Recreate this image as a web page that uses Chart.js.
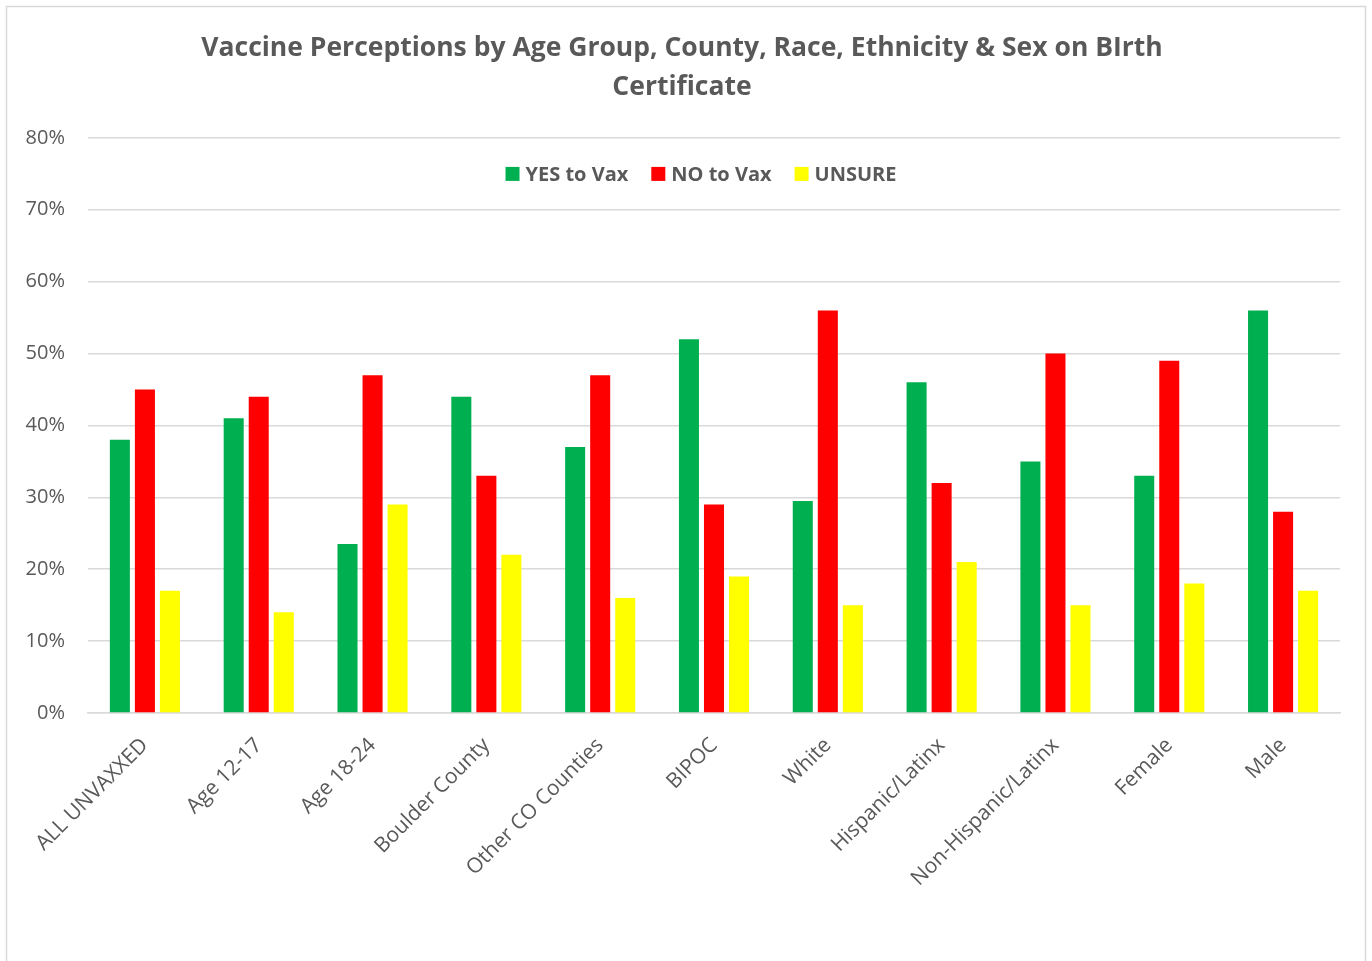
<!DOCTYPE html>
<html>
<head>
<meta charset="utf-8">
<title>Vaccine Perceptions</title>
<script src="https://cdn.jsdelivr.net/npm/chart.js@4.4.1/dist/chart.umd.min.js"></script>
<style>
  html, body { margin: 0; padding: 0; background: #ffffff; }
  #wrap { width: 1372px; height: 961px; }
</style>
</head>
<body>
<div id="wrap"><canvas id="vax" width="1372" height="961"></canvas></div>
<script>
// categories along the x axis
var groups = ['ALL UNVAXXED', 'Age 12-17', 'Age 18-24', 'Boulder County', 'Other CO Counties',
              'BIPOC', 'White', 'Hispanic/Latinx', 'Non-Hispanic/Latinx', 'Female', 'Male'];

// percentages
var yesVax = [38, 41, 23.5, 44, 37, 52, 29.5, 46, 35, 33, 56];
var noVax  = [45, 44, 47, 33, 47, 29, 56, 32, 50, 49, 28];
var unsure = [17, 14, 29, 22, 16, 19, 15, 21, 15, 18, 17];

var seriesNames = ['YES to Vax', 'NO to Vax', 'UNSURE'];
var yTicks = [0, 10, 20, 30, 40, 50, 60, 70, 80];

var textGray = '#595959';
var gridGray = '#d9d9d9';
var font = "'Open Sans', 'Noto Sans', sans-serif";

// white background + thin outer frame like the excel chart box
var frame = {
  id: 'frame',
  beforeDraw: function (chart) {
    var c = chart.ctx;
    c.save();
    c.fillStyle = '#ffffff';
    c.fillRect(0, 0, chart.width, chart.height);
    c.strokeStyle = gridGray;
    c.lineWidth = 1.5;
    c.strokeRect(6.5, 6.5, chart.width - 13, chart.height + 10);
    c.restore();
  }
};

// legend sits inside the plot area, just under the 80% line
var innerLegend = {
  id: 'innerLegend',
  afterDatasetsDraw: function (chart) {
    var c = chart.ctx;
    var sets = chart.data.datasets;
    var box = 14, gap = 6, spacing = 23;
    c.save();
    c.font = 'bold 20px ' + font;
    c.textBaseline = 'middle';
    var total = 0;
    sets.forEach(function (ds, i) {
      total += box + gap + c.measureText(ds.label).width;
      if (i < sets.length - 1) total += spacing;
    });
    var x = 701 - total / 2;
    var y = chart.chartArea.top + 36;
    sets.forEach(function (ds) {
      c.fillStyle = ds.backgroundColor;
      c.fillRect(x, y - box / 2, box, box);
      x += box + gap;
      c.fillStyle = textGray;
      c.fillText(ds.label, x, y + 1);
      x += c.measureText(ds.label).width + spacing;
    });
    c.restore();
  }
};

var ctx = document.getElementById('vax').getContext('2d');
var chart = new Chart(ctx, {
  type: 'bar',
  data: {
    labels: groups,
    datasets: [
      { label: seriesNames[0], data: yesVax, backgroundColor: '#00b050' },
      { label: seriesNames[1], data: noVax,  backgroundColor: '#ff0000' },
      { label: seriesNames[2], data: unsure, backgroundColor: '#ffff00' }
    ]
  },
  options: {
    responsive: false,
    devicePixelRatio: 1,
    animation: false,
    datasets: {
      bar: { categoryPercentage: 0.66, barPercentage: 0.8 }
    },
    layout: { padding: { left: 24, right: 32, top: 6, bottom: 0 } },
    plugins: {
      legend: { display: false },
      tooltip: { enabled: false },
      title: {
        display: true,
        text: ['Vaccine Perceptions by Age Group, County, Race, Ethnicity & Sex on BIrth', 'Certificate'],
        color: textGray,
        font: { family: font, size: 26.5, weight: 'bold', lineHeight: 1.47 },
        padding: { top: 23, bottom: 31 }
      }
    },
    scales: {
      x: {
        grid: { display: false, drawTicks: false },
        border: { color: gridGray, width: 1.5 },
        ticks: {
          color: textGray,
          font: { family: font, size: 21 },
          minRotation: 45,
          maxRotation: 45,
          padding: 20
        },
        afterFit: function (scale) { scale.height = 248; }
      },
      y: {
        min: 0,
        max: 80,
        afterBuildTicks: function (scale) {
          scale.ticks = yTicks.map(function (v) { return { value: v }; });
        },
        afterFit: function (scale) { scale.width = 64; },
        grid: { color: gridGray, lineWidth: 1.5, drawTicks: false },
        border: { display: false },
        ticks: {
          color: textGray,
          font: { family: font, size: 20 },
          padding: 23,
          callback: function (v) { return v + '%'; }
        }
      }
    }
  },
  plugins: [frame, innerLegend]
});
</script>
</body>
</html>
